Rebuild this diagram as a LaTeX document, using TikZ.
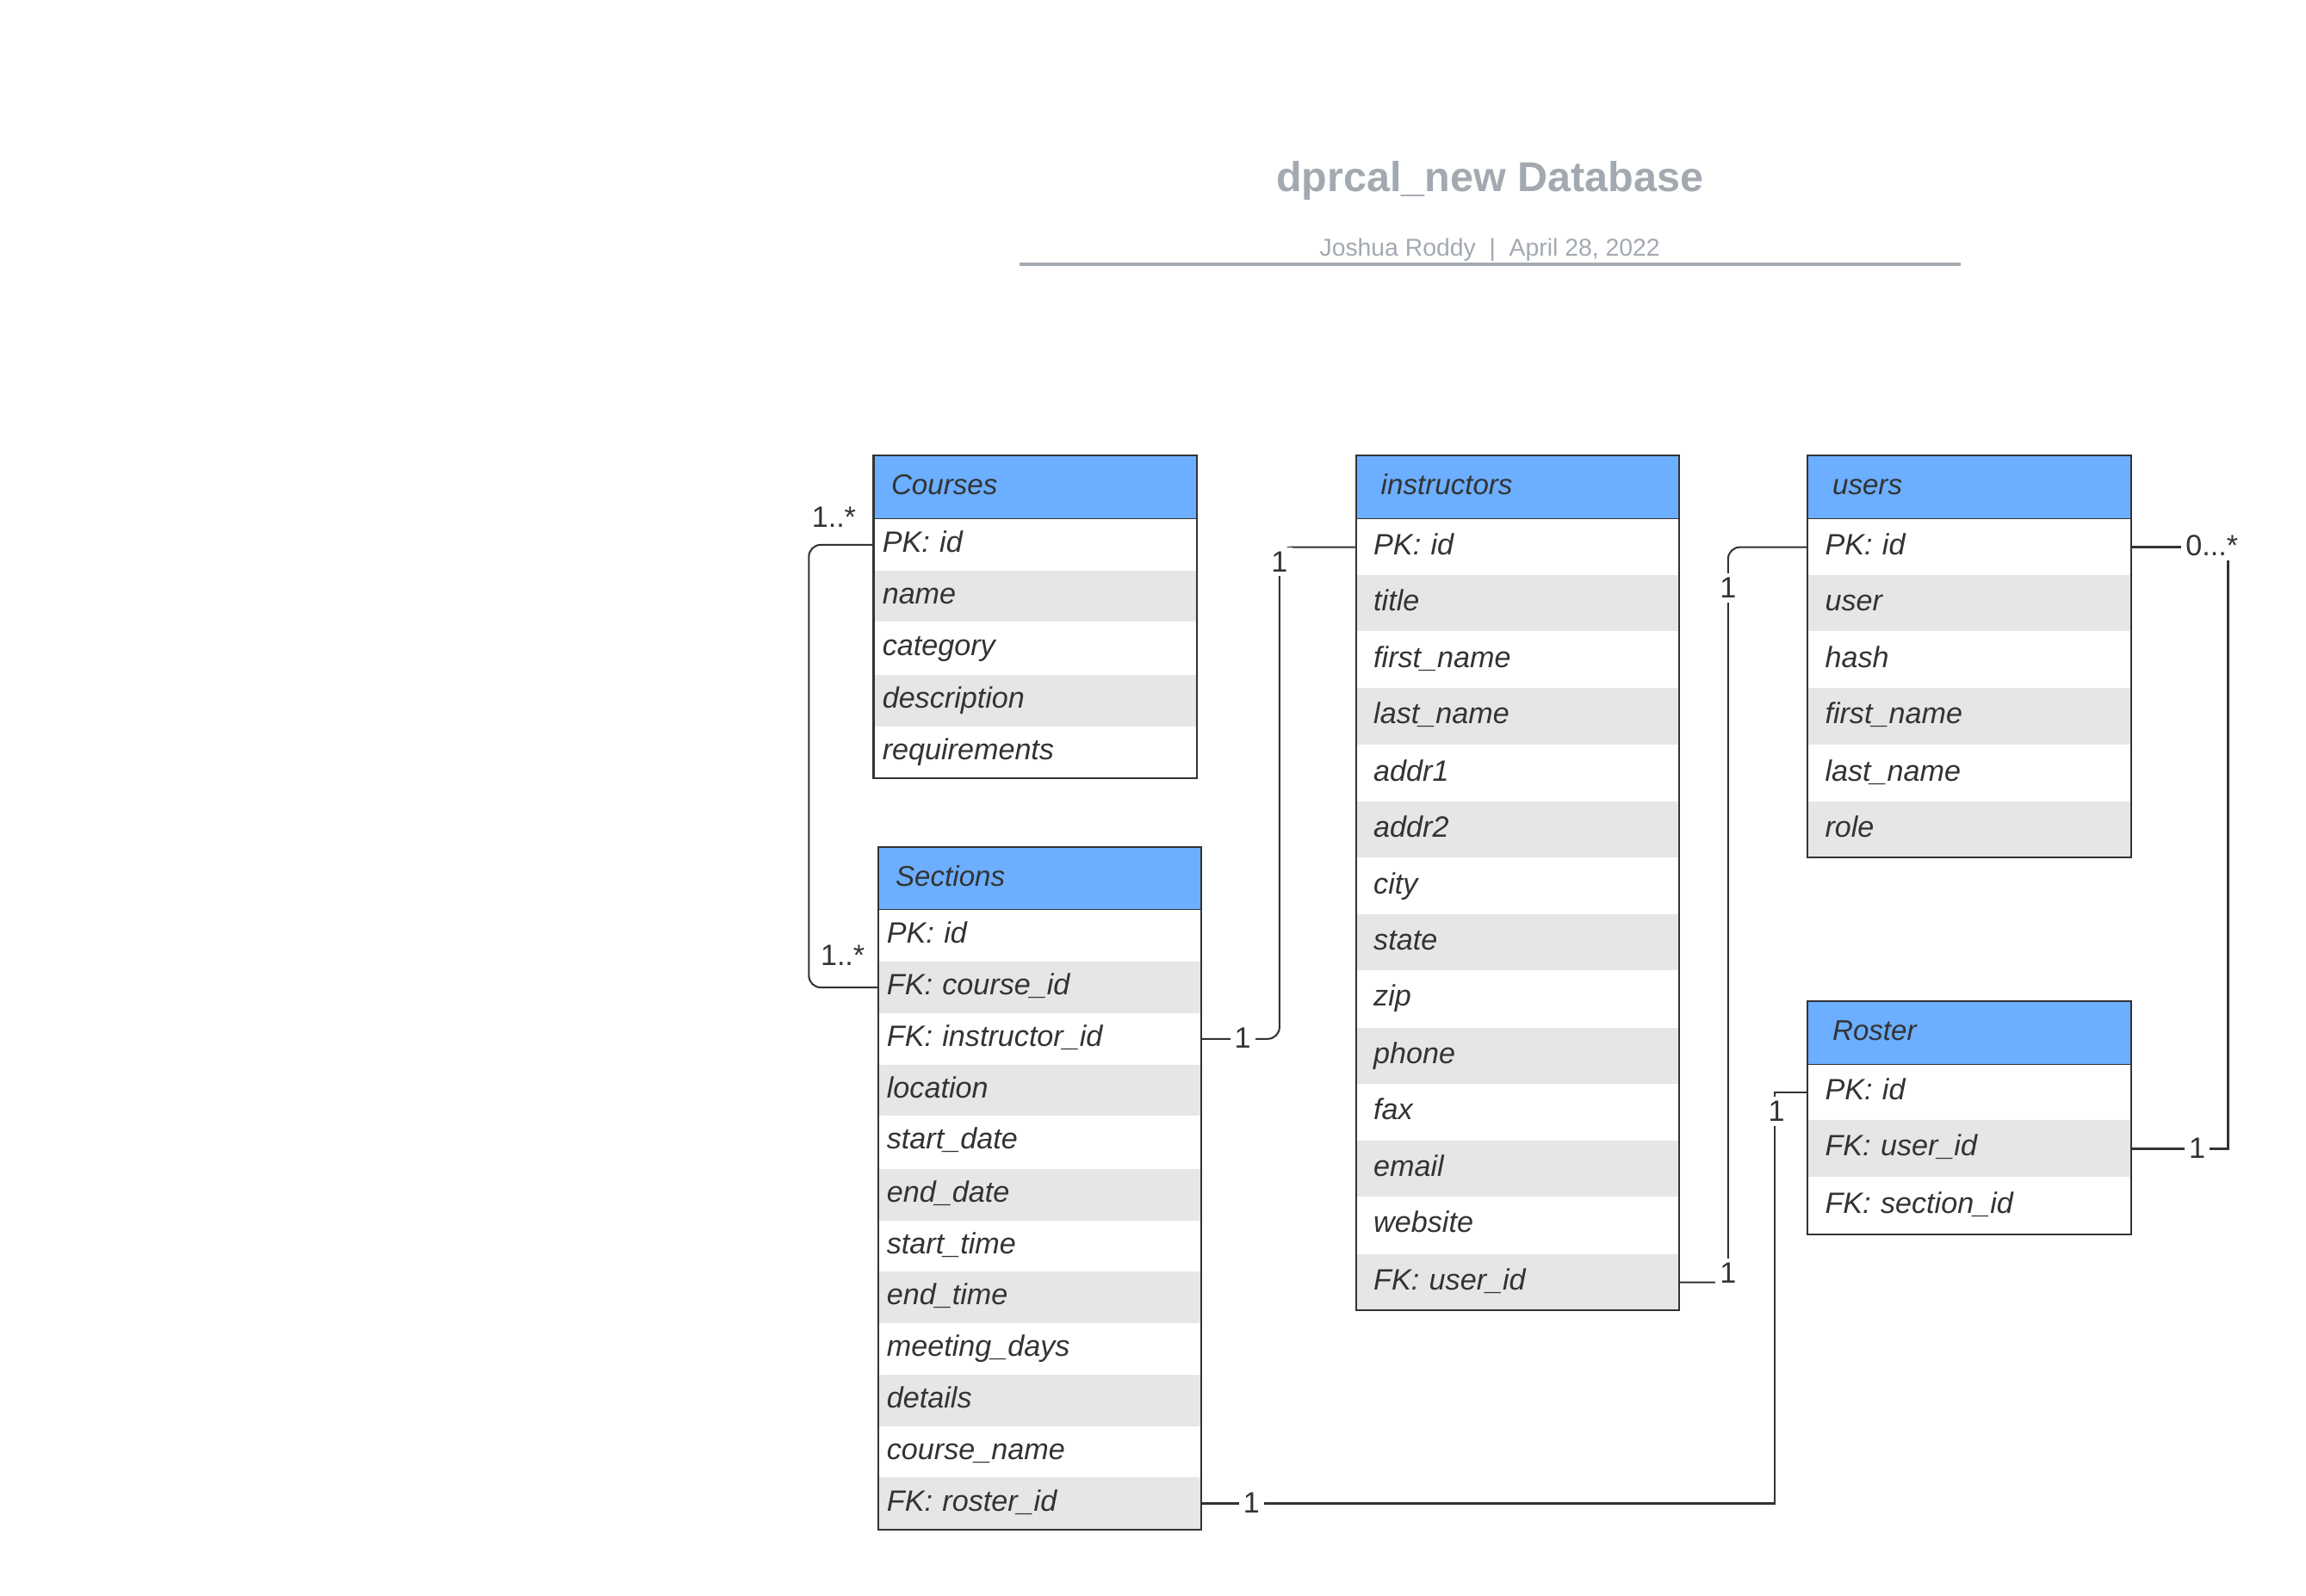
\documentclass[tikz,border=0pt]{standalone}
\usepackage{fontspec}
\setmainfont{Liberation Sans}
\definecolor{headblue}{RGB}{108,174,255}
\definecolor{rowgray}{RGB}{230,230,230}
\definecolor{inkgray}{RGB}{51,51,51}
\definecolor{titlegray}{RGB}{163,169,177}
\begin{document}
\begin{tikzpicture}[x=0.5pt, y=-0.5pt,
    tbl/.style={anchor=north west, outer sep=0pt, inner ysep=0pt, align=left, text height=7.5pt, text depth=2.5pt, text=inkgray},
    hdr/.style={tbl, draw=inkgray, line width=0.6pt, fill=headblue, minimum height=21.5pt, font=\fontsize{9.7}{11}\selectfont\itshape},
    fld/.style={tbl, fill=white, font=\fontsize{10}{12}\selectfont\itshape},
    alt/.style={fill=rowgray},
    padA/.style={inner xsep=3pt, text width=104pt, minimum height=17.6pt},
    padB/.style={inner xsep=6pt, text width=98pt, minimum height=19.2pt},
    hpadA/.style={inner xsep=6pt, text width=98pt},
    hpadB/.style={inner xsep=8.5pt, text width=93pt},
    frame/.style={draw=inkgray, line width=0.6pt},
    link/.style={draw=inkgray, line width=0.6pt},
    card/.style={fill=white, inner sep=1.5pt, text=inkgray, font=\fontsize{10}{12}\selectfont}]
    \useasboundingbox (0,0) rectangle (1568,1085);

    % Título
    \node[font=\bfseries\fontsize{14.2}{17}\selectfont, text=titlegray, anchor=base] (title) at (1013,130) {dprcal\_new Database};
    \node[font=\fontsize{8.3}{10}\selectfont, text=titlegray, anchor=base] (byline) at (1013,174) {Joshua Roddy\ \ |\ \ April 28, 2022};
    \coordinate (ruleL) at (693,180);
    \coordinate (ruleR) at (1333,180);
    \draw[titlegray, line width=1.2pt] (ruleL) -- (ruleR); % Linha abaixo do título

    % Courses
    \node[hdr, hpadA] (crsH) at (594,310) {Courses};
    \node[fld, padA] (crs1) at (594,353) {PK: id};
    \node[fld, padA, alt] (crs2) at (594,388) {name};
    \node[fld, padA] (crs3) at (594,423) {category};
    \node[fld, padA, alt] (crs4) at (594,459) {description};
    \node[fld, padA] (crs5) at (594,494) {requirements};
    \draw[frame] (crsH.north west) rectangle (crs5.south east); % Borda da tabela

    % Sections
    \node[hdr, hpadA] (secH) at (597,576) {Sections};
    \node[fld, padA] (sec1) at (597,619) {PK: id};
    \node[fld, padA, alt] (sec2) at (597,654) {FK: course\_id};
    \node[fld, padA] (sec3) at (597,689) {FK: instructor\_id};
    \node[fld, padA, alt] (sec4) at (597,724) {location};
    \node[fld, padA] (sec5) at (597,759) {start\_date};
    \node[fld, padA, alt] (sec6) at (597,795) {end\_date};
    \node[fld, padA] (sec7) at (597,830) {start\_time};
    \node[fld, padA, alt] (sec8) at (597,865) {end\_time};
    \node[fld, padA] (sec9) at (597,900) {meeting\_days};
    \node[fld, padA, alt] (sec10) at (597,935) {details};
    \node[fld, padA] (sec11) at (597,970) {course\_name};
    \node[fld, padA, alt] (sec12) at (597,1005) {FK: roster\_id};
    \draw[frame] (secH.north west) rectangle (sec12.south east); % Borda da tabela

    % instructors
    \node[hdr, hpadB] (insH) at (922,310) {instructors};
    \node[fld, padB] (ins1) at (922,353) {PK: id};
    \node[fld, padB, alt] (ins2) at (922,391) {title};
    \node[fld, padB] (ins3) at (922,430) {first\_name};
    \node[fld, padB, alt] (ins4) at (922,468) {last\_name};
    \node[fld, padB] (ins5) at (922,507) {addr1};
    \node[fld, padB, alt] (ins6) at (922,545) {addr2};
    \node[fld, padB] (ins7) at (922,584) {city};
    \node[fld, padB, alt] (ins8) at (922,622) {state};
    \node[fld, padB] (ins9) at (922,660) {zip};
    \node[fld, padB, alt] (ins10) at (922,699) {phone};
    \node[fld, padB] (ins11) at (922,737) {fax};
    \node[fld, padB, alt] (ins12) at (922,776) {email};
    \node[fld, padB] (ins13) at (922,814) {website};
    \node[fld, padB, alt] (ins14) at (922,853) {FK: user\_id};
    \draw[frame] (insH.north west) rectangle (ins14.south east); % Borda da tabela

    % users
    \node[hdr, hpadB] (usrH) at (1229,310) {users};
    \node[fld, padB] (usr1) at (1229,353) {PK: id};
    \node[fld, padB, alt] (usr2) at (1229,391) {user};
    \node[fld, padB] (usr3) at (1229,430) {hash};
    \node[fld, padB, alt] (usr4) at (1229,468) {first\_name};
    \node[fld, padB] (usr5) at (1229,507) {last\_name};
    \node[fld, padB, alt] (usr6) at (1229,545) {role};
    \draw[frame] (usrH.north west) rectangle (usr6.south east); % Borda da tabela

    % Roster
    \node[hdr, hpadB] (rosH) at (1229,681) {Roster};
    \node[fld, padB] (ros1) at (1229,724) {PK: id};
    \node[fld, padB, alt] (ros2) at (1229,762) {FK: user\_id};
    \node[fld, padB] (ros3) at (1229,801) {FK: section\_id};
    \draw[frame] (rosH.north west) rectangle (ros3.south east); % Borda da tabela

    % Conexões entre as tabelas
    \draw[link, rounded corners=4pt] (crs1.west) -- ++(-44,0) |- (sec2.west); % Courses - Sections
    \draw[link, rounded corners=4pt] (sec3.east) -- ++(53,0) |- (ins1.west); % Sections - instructors
    \draw[link, rounded corners=4pt] (ins14.east) -- ++(33,0) |- (usr1.west); % instructors - users
    \draw[link, line width=0.8pt] (usr1.east) -- ++(66,0) |- (ros2.east); % users - Roster
    \draw[link] (sec12.east) -- ++(390,0) |- (ros1.west); % Sections - Roster

    % Cardinalidades
    \node[card] (m1) at (567,352) {1..*};
    \node[card] (m2) at (573,650) {1..*};
    \node[card] (m3) at (870,382) {1};
    \node[card] (m4) at (845,706) {1};
    \node[card] (m5) at (1175,400) {1};
    \node[card] (m6) at (1175,866) {1};
    \node[card] (m7) at (1504,371) {0...*};
    \node[card] (m8) at (1494,781) {1};
    \node[card] (m9) at (1208,756) {1};
    \node[card] (m10) at (851,1022) {1};
\end{tikzpicture}
\end{document}
